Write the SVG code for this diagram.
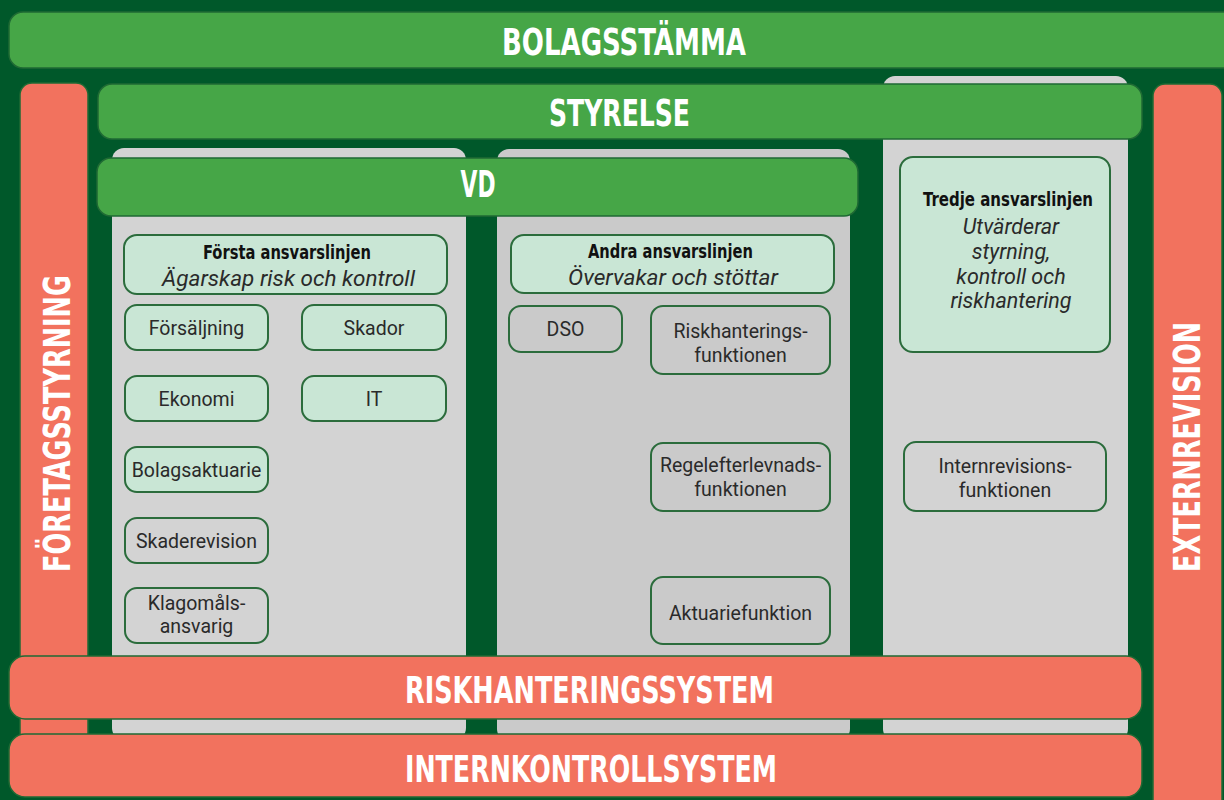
<svg xmlns="http://www.w3.org/2000/svg" width="1224" height="800" viewBox="0 0 1224 800">
<style>
.bar-g{fill:#46a647;stroke:#1f6a34;stroke-width:1.5}
.bar-o{fill:#f2725e;stroke:#1f6a34;stroke-width:1.5}
.panel{fill:#d3d3d3}
.panel2{fill:#cacaca}
.box{stroke:#2b6c3c;stroke-width:2}
.mint{fill:#c9e6d5}
.grey{fill:#d3d3d3}
.grey2{fill:#cacaca}
.title{font-family:"DejaVu Sans Condensed","DejaVu Sans",sans-serif;font-weight:bold;fill:#ffffff;font-size:37px;text-anchor:middle}
.head{font-family:"DejaVu Sans Condensed","DejaVu Sans",sans-serif;font-weight:bold;fill:#111;font-size:20px;text-anchor:middle}
.ital{font-family:Roboto,"Open Sans",sans-serif;font-style:italic;fill:#2a2a2a;font-size:21.5px;text-anchor:middle}
.lbl{font-family:Roboto,"Open Sans",sans-serif;fill:#2a2a2a;font-size:19.5px;text-anchor:middle}
</style>
<rect x="0" y="0" width="1224" height="800" fill="#00582a"/>

<g id="panels">
<rect class="panel" x="112" y="148" width="354" height="592" rx="12"/>
<rect class="panel2" x="497" y="149" width="353" height="592" rx="12"/>
<rect class="panel" x="883" y="76" width="245" height="665" rx="12"/>
</g>

<g id="foretagsstyrning">
<rect class="bar-o" x="20" y="83" width="68" height="662" rx="12"/>
<text class="title" transform="translate(70 423.5) rotate(-90)" textLength="297" lengthAdjust="spacingAndGlyphs">FÖRETAGSSTYRNING</text>
</g>

<g id="externrevision">
<rect class="bar-o" x="1153" y="84" width="69" height="740" rx="12"/>
<text class="title" transform="translate(1200 447) rotate(-90)" textLength="250" lengthAdjust="spacingAndGlyphs">EXTERNREVISION</text>
</g>

<g id="bolagsstamma">
<rect class="bar-g" x="9" y="12" width="1240" height="56" rx="14"/>
<text class="title" x="624" y="55" textLength="244" lengthAdjust="spacingAndGlyphs">BOLAGSSTÄMMA</text>
</g>

<g id="styrelse">
<rect class="bar-g" x="98" y="84" width="1044" height="55" rx="14"/>
<text class="title" x="619.5" y="126" textLength="141" lengthAdjust="spacingAndGlyphs">STYRELSE</text>
</g>

<g id="vd">
<rect class="bar-g" x="97" y="158" width="761" height="58" rx="14"/>
<text class="title" x="478" y="197" textLength="35" lengthAdjust="spacingAndGlyphs">VD</text>
</g>

<g id="forsta">
<rect class="box mint" x="124" y="235" width="323" height="59" rx="13"/>
<text class="head" x="287" y="259" textLength="168" lengthAdjust="spacingAndGlyphs">Första ansvarslinjen</text>
<text class="ital" x="288.5" y="286" textLength="253" lengthAdjust="spacingAndGlyphs">Ägarskap risk och kontroll</text>
</g>
<g id="forsaljning"><rect class="box mint" x="125" y="305" width="143" height="45" rx="12"/><text class="lbl" x="196.5" y="335">Försäljning</text></g>
<g id="skador"><rect class="box mint" x="302" y="305" width="144" height="45" rx="12"/><text class="lbl" x="374" y="335">Skador</text></g>
<g id="ekonomi"><rect class="box mint" x="125" y="376" width="143" height="45" rx="12"/><text class="lbl" x="196.5" y="406">Ekonomi</text></g>
<g id="it"><rect class="box mint" x="302" y="376" width="144" height="45" rx="12"/><text class="lbl" x="374" y="406">IT</text></g>
<g id="bolagsaktuarie"><rect class="box mint" x="125" y="447" width="143" height="45" rx="12"/><text class="lbl" x="196.5" y="477">Bolagsaktuarie</text></g>
<g id="skaderevision"><rect class="box grey" x="125" y="518" width="143" height="45" rx="12"/><text class="lbl" x="196.5" y="548">Skaderevision</text></g>
<g id="klagomal"><rect class="box grey" x="125" y="588" width="143" height="55" rx="12"/><text class="lbl" x="196.5" y="610">Klagomåls-</text><text class="lbl" x="196.5" y="633">ansvarig</text></g>

<g id="andra">
<rect class="box mint" x="511" y="235" width="323" height="58" rx="13"/>
<text class="head" x="670.5" y="258" textLength="165" lengthAdjust="spacingAndGlyphs">Andra ansvarslinjen</text>
<text class="ital" x="673" y="285" textLength="210" lengthAdjust="spacingAndGlyphs">Övervakar och stöttar</text>
</g>
<g id="dso"><rect class="box grey2" x="509" y="306" width="113" height="46" rx="12"/><text class="lbl" x="565.5" y="336">DSO</text></g>
<g id="riskfunktion"><rect class="box grey2" x="651" y="306" width="179" height="68" rx="12"/><text class="lbl" x="740.5" y="338">Riskhanterings-</text><text class="lbl" x="740.5" y="362">funktionen</text></g>
<g id="regelfunktion"><rect class="box grey2" x="651" y="443" width="179" height="68" rx="12"/><text class="lbl" x="740.5" y="472">Regelefterlevnads-</text><text class="lbl" x="740.5" y="496">funktionen</text></g>
<g id="aktuariefunktion"><rect class="box grey2" x="651" y="577" width="179" height="67" rx="12"/><text class="lbl" x="740.5" y="620">Aktuariefunktion</text></g>

<g id="tredje">
<rect class="box mint" x="900" y="157" width="210" height="195" rx="13"/>
<text class="head" x="1008" y="206" textLength="170" lengthAdjust="spacingAndGlyphs">Tredje ansvarslinjen</text>
<text class="ital" x="1011" y="234">Utvärderar</text>
<text class="ital" x="1011" y="259">styrning,</text>
<text class="ital" x="1011" y="284">kontroll och</text>
<text class="ital" x="1011" y="308">riskhantering</text>
</g>
<g id="internrevision"><rect class="box grey" x="904" y="442" width="202" height="69" rx="12"/><text class="lbl" x="1005" y="473">Internrevisions-</text><text class="lbl" x="1005" y="497">funktionen</text></g>

<g id="riskhanteringssystem">
<rect class="bar-o" x="9" y="656" width="1133" height="63" rx="16"/>
<text class="title" x="589.5" y="703" textLength="369" lengthAdjust="spacingAndGlyphs">RISKHANTERINGSSYSTEM</text>
</g>
<g id="internkontrollsystem">
<rect class="bar-o" x="9" y="734" width="1133" height="63" rx="16"/>
<text class="title" x="591" y="782" textLength="372" lengthAdjust="spacingAndGlyphs">INTERNKONTROLLSYSTEM</text>
</g>
<g id="connectors"/>
</svg>
